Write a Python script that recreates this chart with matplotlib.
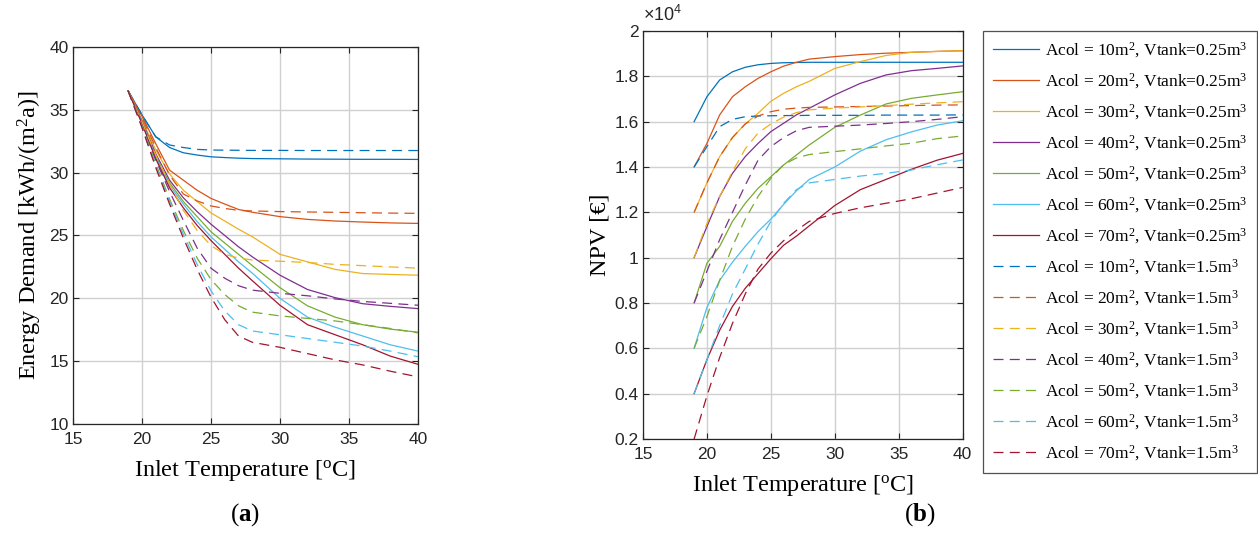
import numpy as np
import matplotlib.pyplot as plt
from matplotlib.ticker import FormatStrFormatter

plt.rcParams.update({
    "font.family": "Liberation Serif",
    "mathtext.fontset": "custom",
    "mathtext.rm": "Liberation Serif",
    "mathtext.bf": "Liberation Serif:bold",
    "mathtext.default": "regular",
})

# inlet temperature [degC]
temp = [19, 20, 21, 22, 23, 24, 25, 26, 27, 28, 30, 32, 34, 36, 38, 40]
acol = [10, 20, 30, 40, 50, 60, 70]

# energy demand [kWh/(m2 a)], Vtank = 0.25 m3
ed_small = [
    [36.5, 34.6, 32.85, 32.0, 31.58, 31.4, 31.26, 31.2, 31.15, 31.12, 31.1, 31.08, 31.07, 31.06, 31.06, 31.05],
    [36.5, 34.5, 32.3, 30.2, 29.4, 28.6, 27.95, 27.5, 27.07, 26.85, 26.5, 26.28, 26.15, 26.07, 26.0, 25.96],
    [36.5, 34.2, 31.8, 29.9, 28.6, 27.7, 26.8, 26.15, 25.5, 24.9, 23.5, 22.9, 22.3, 21.97, 21.9, 21.84],
    [36.5, 34.1, 31.5, 29.4, 28.0, 26.9, 25.9, 25.0, 24.1, 23.3, 21.84, 20.7, 20.05, 19.57, 19.36, 19.18],
    [36.5, 34.0, 31.3, 29.2, 27.7, 26.5, 25.3, 24.4, 23.5, 22.6, 20.85, 19.4, 18.5, 17.9, 17.55, 17.3],
    [36.5, 34.0, 31.2, 29.0, 27.5, 26.1, 24.9, 23.9, 22.9, 22.0, 20.0, 18.5, 17.7, 17.0, 16.3, 15.8],
    [36.5, 33.9, 31.1, 28.8, 27.2, 25.8, 24.6, 23.5, 22.4, 21.4, 19.45, 17.9, 17.1, 16.3, 15.4, 14.75],
]
# energy demand [kWh/(m2 a)], Vtank = 1.5 m3
ed_large = [
    [36.5, 34.6, 32.85, 32.2, 32.0, 31.85, 31.8, 31.79, 31.78, 31.77, 31.77, 31.76, 31.76, 31.76, 31.76, 31.76],
    [36.5, 34.4, 32.0, 29.8, 28.3, 27.75, 27.35, 27.15, 27.0, 26.95, 26.9, 26.87, 26.84, 26.81, 26.78, 26.76],
    [36.5, 34.0, 31.4, 29.1, 27.0, 25.4, 24.2, 23.5, 23.2, 23.05, 22.95, 22.85, 22.7, 22.6, 22.5, 22.4],
    [36.5, 33.8, 31.0, 28.5, 26.2, 24.0, 22.4, 21.6, 21.0, 20.65, 20.4, 20.2, 19.95, 19.75, 19.6, 19.45],
    [36.5, 33.7, 30.7, 27.9, 25.4, 23.2, 21.5, 20.3, 19.4, 18.9, 18.6, 18.4, 18.2, 17.9, 17.6, 17.25],
    [36.5, 33.6, 30.5, 27.7, 25.1, 22.7, 20.6, 19.0, 17.9, 17.4, 17.1, 16.8, 16.5, 16.2, 15.8, 15.35],
    [36.5, 33.6, 30.4, 27.5, 24.8, 22.3, 20.1, 18.3, 17.0, 16.5, 16.1, 15.6, 15.1, 14.7, 14.2, 13.75],
]

# NPV [x10^4 EUR], Vtank = 0.25 m3
npv_small = [
    [1.60, 1.71, 1.784, 1.82, 1.84, 1.851, 1.857, 1.86, 1.861, 1.862, 1.862, 1.862, 1.862, 1.862, 1.862, 1.862],
    [1.40, 1.504, 1.63, 1.71, 1.754, 1.791, 1.82, 1.845, 1.862, 1.876, 1.887, 1.896, 1.902, 1.906, 1.91, 1.913],
    [1.20, 1.33, 1.446, 1.53, 1.59, 1.637, 1.69, 1.725, 1.754, 1.778, 1.835, 1.865, 1.892, 1.906, 1.91, 1.913],
    [1.00, 1.137, 1.27, 1.372, 1.446, 1.504, 1.556, 1.593, 1.63, 1.659, 1.718, 1.769, 1.806, 1.825, 1.835, 1.846],
    [0.80, 0.975, 1.05, 1.16, 1.24, 1.306, 1.357, 1.409, 1.453, 1.497, 1.575, 1.629, 1.678, 1.703, 1.718, 1.732],
    [0.60, 0.78, 0.90, 0.98, 1.05, 1.115, 1.17, 1.235, 1.295, 1.345, 1.40, 1.47, 1.52, 1.555, 1.585, 1.604],
    [0.40, 0.55, 0.68, 0.785, 0.865, 0.93, 0.995, 1.055, 1.095, 1.14, 1.23, 1.30, 1.345, 1.39, 1.43, 1.46],
]
# NPV [x10^4 EUR], Vtank = 1.5 m3
npv_large = [
    [1.40, 1.49, 1.578, 1.61, 1.622, 1.625, 1.626, 1.627, 1.627, 1.628, 1.628, 1.628, 1.629, 1.629, 1.629, 1.63],
    [1.20, 1.33, 1.446, 1.53, 1.59, 1.625, 1.644, 1.655, 1.66, 1.663, 1.665, 1.667, 1.669, 1.671, 1.673, 1.674],
    [1.00, 1.15, 1.27, 1.38, 1.48, 1.55, 1.59, 1.62, 1.64, 1.652, 1.66, 1.665, 1.671, 1.677, 1.683, 1.688],
    [0.80, 0.94, 1.08, 1.20, 1.32, 1.43, 1.49, 1.53, 1.56, 1.575, 1.58, 1.585, 1.592, 1.60, 1.61, 1.622],
    [0.60, 0.74, 0.90, 1.05, 1.17, 1.27, 1.35, 1.41, 1.44, 1.455, 1.468, 1.48, 1.493, 1.505, 1.525, 1.537],
    [0.40, 0.55, 0.70, 0.84, 0.95, 1.06, 1.16, 1.24, 1.30, 1.33, 1.345, 1.36, 1.372, 1.387, 1.41, 1.431],
    [0.20, 0.39, 0.56, 0.71, 0.84, 0.95, 1.02, 1.075, 1.12, 1.16, 1.195, 1.22, 1.24, 1.26, 1.285, 1.31],
]

colors = ["#0072BD", "#D95319", "#EDB120", "#7E2F8E", "#77AC30", "#4DBEEE", "#A2142F"]
dash = (8, 5)
lw = 0.9

fig = plt.figure(figsize=(12.58, 5.43), dpi=100)
ax1 = fig.add_axes([0.058, 0.2192, 0.2742, 0.6943])
ax2 = fig.add_axes([0.5111, 0.1915, 0.2541, 0.7514])


def style(ax):
    ax.grid(True, color="#d0d0d0", linewidth=1.0)
    ax.set_axisbelow(True)
    ax.tick_params(direction="in", top=True, right=True, length=4,
                   labelsize=12.5, color="#262626", labelcolor="#262626")
    ax.tick_params(axis="x", pad=6)
    ax.tick_params(axis="y", pad=3)
    for lab in ax.get_xticklabels() + ax.get_yticklabels():
        lab.set_fontfamily("Liberation Sans")
    for s in ax.spines.values():
        s.set_color("#262626")
        s.set_linewidth(0.9)
    ax.xaxis.set_major_formatter(FormatStrFormatter("%g"))
    ax.yaxis.set_major_formatter(FormatStrFormatter("%g"))


handles = []
labels = []
for i, a in enumerate(acol):
    h, = ax1.plot(temp, ed_small[i], color=colors[i], lw=lw)
    ax2.plot(temp, npv_small[i], color=colors[i], lw=lw)
    handles.append(h)
    labels.append(f"Acol = {a}m$^{{2}}$, Vtank=0.25m$^{{3}}$")
for i, a in enumerate(acol):
    h, = ax1.plot(temp, ed_large[i], color=colors[i], lw=lw, dashes=dash)
    ax2.plot(temp, npv_large[i], color=colors[i], lw=lw, dashes=dash)
    handles.append(h)
    labels.append(f"Acol = {a}m$^{{2}}$, Vtank=1.5m$^{{3}}$")

ax1.set_xlim(15, 40)
ax1.set_ylim(10, 40)
ax1.set_xticks(range(15, 41, 5))
ax1.set_yticks(range(10, 41, 5))
style(ax1)
ax1.set_xlabel("Inlet Temperature [$^{o}$C]", fontsize=17.5, labelpad=8)
ax1.set_ylabel("Energy Demand [kWh/(m$^{2}$a)]", fontsize=17.5, labelpad=4)

ax2.set_xlim(15, 40)
ax2.set_ylim(0.2, 2.0)
ax2.set_xticks(range(15, 41, 5))
ax2.set_yticks(np.arange(0.2, 2.01, 0.2))
style(ax2)
ax2.set_xlabel("Inlet Temperature [$^{o}$C]", fontsize=17.5, labelpad=8)
ax2.set_ylabel("NPV [€]", fontsize=17.5, labelpad=3)
ax2.text(0.0, 1.015, r"$\times$10$^{4}$", transform=ax2.transAxes,
         fontsize=13, family="Liberation Sans", color="#262626", va="bottom")

leg = fig.legend(handles, labels, loc="upper left",
                 bbox_to_anchor=(983 / 1258, 1 - 31 / 543),
                 fontsize=12.5, frameon=True, fancybox=False, borderaxespad=0,
                 handlelength=2.7, handletextpad=0.3, labelspacing=0.655,
                 borderpad=0.55)
leg.get_frame().set_edgecolor("#262626")
leg.get_frame().set_linewidth(0.9)

fig.text(245 / 1258, 1 - 515 / 543, r"($\mathbf{a}$)", fontsize=18, ha="center", va="center")
fig.text(920 / 1258, 1 - 515 / 543, r"($\mathbf{b}$)", fontsize=18, ha="center", va="center")

fig.savefig("out.png", dpi=100)
